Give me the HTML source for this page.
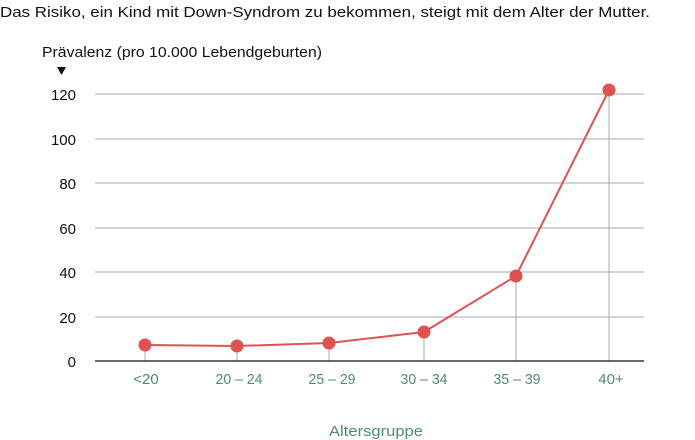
<!DOCTYPE html>
<html><head><meta charset="utf-8"><style>
body{margin:0;background:#fff;}
svg{display:block;font-family:"Liberation Sans",sans-serif;}
</style></head><body>
<svg width="695" height="440" xmlns="http://www.w3.org/2000/svg">
<text x="0" y="17" font-size="15" fill="#111" textLength="650" lengthAdjust="spacingAndGlyphs">Das Risiko, ein Kind mit Down-Syndrom zu bekommen, steigt mit dem Alter der Mutter.</text>
<text x="42" y="57" font-size="15" fill="#111" textLength="280" lengthAdjust="spacingAndGlyphs">Prävalenz (pro 10.000 Lebendgeburten)</text>
<polygon points="57,67 66,67 61.5,75" fill="#111"/>
<g stroke="#aaa" stroke-width="1">
<line x1="95" y1="94" x2="644" y2="94"/>
<line x1="95" y1="139" x2="644" y2="139"/>
<line x1="95" y1="183" x2="644" y2="183"/>
<line x1="95" y1="228" x2="644" y2="228"/>
<line x1="95" y1="272" x2="644" y2="272"/>
<line x1="95" y1="317" x2="644" y2="317"/>
<line x1="145" y1="345" x2="145" y2="361"/>
<line x1="237" y1="346" x2="237" y2="361"/>
<line x1="329" y1="343" x2="329" y2="361"/>
<line x1="424" y1="332" x2="424" y2="361"/>
<line x1="516" y1="276" x2="516" y2="361"/>
<line x1="609" y1="90" x2="609" y2="361"/>
</g>
<line x1="95" y1="361" x2="644" y2="361" stroke="#111" stroke-width="1.3"/>
<g font-size="15" fill="#111" text-anchor="end">
<text x="76" y="100">120</text>
<text x="76" y="145">100</text>
<text x="76" y="189">80</text>
<text x="76" y="234">60</text>
<text x="76" y="278">40</text>
<text x="76" y="323">20</text>
<text x="76" y="367">0</text>
</g>
<polyline points="145,345 237,346 329,343 424,332 516,276 609,90" fill="none" stroke="#e05252" stroke-width="2"/>
<g fill="#e05252">
<circle cx="145" cy="345" r="6.5"/><circle cx="237" cy="346" r="6.5"/><circle cx="329" cy="343" r="6.5"/>
<circle cx="424" cy="332" r="6.5"/><circle cx="516" cy="276" r="6.5"/><circle cx="609" cy="90" r="6.5"/>
</g>
<g font-size="15" fill="#4f8a7c" text-anchor="middle">
<text x="146" y="384">&lt;20</text>
<text x="239" y="384" textLength="47" lengthAdjust="spacingAndGlyphs">20 – 24</text>
<text x="332" y="384" textLength="47" lengthAdjust="spacingAndGlyphs">25 – 29</text>
<text x="424" y="384" textLength="47" lengthAdjust="spacingAndGlyphs">30 – 34</text>
<text x="517" y="384" textLength="47" lengthAdjust="spacingAndGlyphs">35 – 39</text>
<text x="611" y="384">40+</text>
<text x="376" y="436" textLength="94" lengthAdjust="spacingAndGlyphs">Altersgruppe</text>
</g>
</svg>
</body></html>
